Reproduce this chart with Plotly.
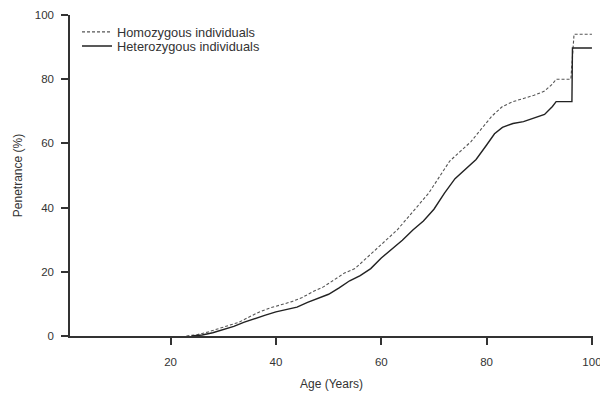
import plotly.graph_objects as go

hom_age = [23, 25, 27, 29, 31, 33, 35, 37, 39, 41, 43, 45, 47, 49, 51, 53, 55, 57, 59, 61, 63, 65, 67, 69, 71, 73, 75, 77, 79, 81, 83, 85, 87, 89, 91, 92.5, 93.2, 96.0, 96.6, 100]
hom_val = [0, 0.4, 1.2, 2.3, 3.2, 4.3, 6.0, 7.6, 8.8, 9.8, 10.7, 12.0, 13.8, 15.3, 17.5, 19.6, 21.0, 24.0, 27.0, 29.8, 33.0, 36.8, 40.5, 44.5, 49.5, 54.5, 57.5, 60.5, 64.5, 68.5, 71.5, 73.0, 74.0, 75.0, 76.3, 78.5, 80.0, 80.0, 94.0, 94.0]

het_age = [24, 26, 28, 30, 32, 34, 36, 38, 40, 42, 44, 46, 48, 50, 52, 54, 56, 58, 60, 62, 64, 66, 68, 70, 72, 74, 76, 78, 80, 81.5, 83, 85, 87, 89, 91, 92.5, 93.2, 96.2, 96.3, 100]
het_val = [0, 0.3, 1.0, 2.0, 3.0, 4.3, 5.5, 6.5, 7.5, 8.2, 9.0, 10.5, 11.8, 13.0, 15.0, 17.2, 18.8, 21.0, 24.3, 27.0, 29.8, 33.0, 35.8, 39.5, 44.5, 49.0, 52.0, 55.0, 59.5, 63.0, 65.0, 66.2, 66.8, 67.8, 69.0, 71.5, 73.0, 73.0, 89.7, 89.7]

x_ticks = [20, 40, 60, 80, 100]
y_ticks = [0, 20, 40, 60, 80, 100]

fig = go.Figure()
fig.add_trace(go.Scatter(x=hom_age, y=hom_val, mode="lines", name="Homozygous individuals",
                         legend="legend", showlegend=True,
                         line=dict(color="#555555", width=1.1, dash="3px,2px")))
fig.add_trace(go.Scatter(x=het_age, y=het_val, mode="lines", name="Heterozygous individuals",
                         legend="legend2", showlegend=True,
                         line=dict(color="#222222", width=1.4)))

axis_common = dict(showline=True, linecolor="#333333", linewidth=1.5, ticks="outside",
                   ticklen=7, tickwidth=1.5, tickcolor="#333333", showgrid=False, zeroline=False,
                   automargin=False, ticklabeloverflow="allow",
                   tickfont=dict(size=11.5, color="#333333"))
fig.update_xaxes(range=[0.9, 100.2], tickvals=x_ticks, ticklabelstandoff=7,
                 title=dict(text="Age (Years)", font=dict(size=12, color="#333333"), standoff=13),
                 **axis_common)
fig.update_yaxes(range=[0, 100], tickvals=y_ticks, ticklabelstandoff=5,
                 title=dict(text="Penetrance (%)", font=dict(size=12, color="#333333"), standoff=10),
                 **axis_common)

leg_common = dict(x=0.0134, xanchor="left", yanchor="middle", bgcolor="rgba(0,0,0,0)",
                  font=dict(size=12.8, color="#333333"), itemwidth=30)
fig.update_layout(
    width=600, height=401,
    showlegend=True,
    margin=dict(l=70, r=7, t=15, b=65),
    plot_bgcolor="white", paper_bgcolor="white",
    font=dict(family="Liberation Sans, Arial, sans-serif", color="#333333"),
    legend=dict(y=0.947, **leg_common),
    legend2=dict(y=0.903, **leg_common),
)
fig.write_html("out.html", config={"displayModeBar": False},
               post_script="document.body.style.margin='0';document.body.style.overflow='hidden';")
